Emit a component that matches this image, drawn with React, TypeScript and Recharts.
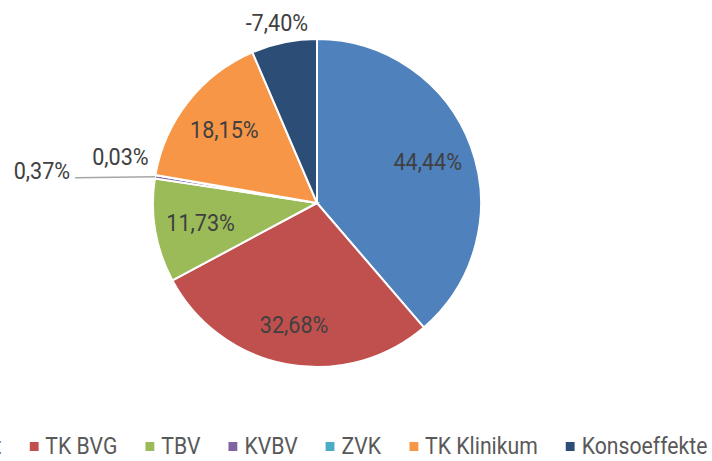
import React from 'react';
import { PieChart, Pie, Cell, Legend } from 'recharts';

const categories = ['Kernhaushalt', 'TK BVG', 'TBV', 'KVBV', 'ZVK', 'TK Klinikum', 'Konsoeffekte'];
const shares = [44.44, 32.68, 11.73, 0.37, 0.03, 18.15, -7.4];
const colors = ['#4F81BD', '#C0504D', '#9BBB59', '#8064A2', '#4BACC6', '#F79646', '#2C4D75'];

const data = categories.map((name, i) => ({ name, value: Math.abs(shares[i]), share: shares[i] }));

const RAD = Math.PI / 180;
const FONT = 'Roboto, "Open Sans", sans-serif';
const fmt = (v: number) => v.toFixed(2).replace('.', ',') + '%';
const SX = 0.883;

const LabelText = ({ x, y, text, anchor = 'middle' }: any) => (
  <text
    transform={`translate(${x},${y}) scale(0.9,1)`}
    x={0}
    y={0}
    textAnchor={anchor}
    dominantBaseline="central"
    fill="#404040"
    fontFamily={FONT}
    fontWeight={400}
    fontSize={24}
  >
    {text}
  </text>
);

const renderLabel = (props: any) => {
  const { cx, cy, midAngle, outerRadius, index } = props;
  const text = fmt(shares[index]);
  const pt = (r: number, a: number) => ({ x: cx + r * Math.cos(-a * RAD), y: cy + r * Math.sin(-a * RAD) });
  if (index === 3) {
    const p = pt(outerRadius, midAngle);
    return (
      <g key={`l${index}`}>
        <path d={`M${p.x},${p.y} L${p.x - 80},${p.y + 1}`} stroke="#A6A6A6" strokeWidth={1.5} fill="none" />
        <LabelText x={p.x - 85} y={p.y - 6} text={text} anchor="end" />
      </g>
    );
  }
  if (index === 4) {
    const p = pt(outerRadius + 38, midAngle - 3.4);
    return <LabelText key={`l${index}`} x={p.x} y={p.y} text={text} />;
  }
  if (index === 6) {
    const p = pt(outerRadius + 20, midAngle + 1);
    return <LabelText key={`l${index}`} x={p.x} y={p.y} text={text} />;
  }
  const f = index === 1 ? 0.76 : 0.72;
  const p = pt(outerRadius * f, midAngle);
  return <LabelText key={`l${index}`} x={p.x} y={p.y} text={text} />;
};

const renderLegend = () => (
  <div
    style={{
      display: 'flex',
      alignItems: 'center',
      whiteSpace: 'nowrap',
      fontFamily: FONT,
      fontWeight: 400,
      fontSize: 24,
      color: '#595959',
      lineHeight: '28px',
      transform: `scaleX(${SX})`,
      transformOrigin: 'right center',
    }}
  >
    {categories.map((name, i) => (
      <span key={name} style={{ display: 'inline-flex', alignItems: 'center', marginLeft: i ? 28 / SX : 0 }}>
        <span style={{ display: 'inline-block', width: 9 / SX, height: 9, background: colors[i], marginRight: 7 / SX }} />
        <span>{name}</span>
      </span>
    ))}
  </div>
);

export default function App() {
  return (
    <div style={{ position: 'absolute', left: 0, top: 0, width: 712, height: 461, overflow: 'hidden', background: '#fff' }}>
      <PieChart width={712} height={461} margin={{ top: 0, right: 0, bottom: 0, left: 0 }} style={{ overflow: 'visible' }}>
        <Pie
          data={data}
          dataKey="value"
          nameKey="name"
          cx={317}
          cy={203}
          outerRadius={164}
          startAngle={90}
          endAngle={-270}
          stroke="#FFFFFF"
          strokeWidth={2}
          labelLine={false}
          label={renderLabel}
          isAnimationActive={false}
        >
          {data.map((d, i) => (
            <Cell key={d.name} fill={colors[i]} />
          ))}
        </Pie>
        <Legend
          content={renderLegend}
          wrapperStyle={{ position: 'absolute', top: 432, right: 5, left: 'auto', bottom: 'auto', width: 'auto' }}
        />
      </PieChart>
    </div>
  );
}
